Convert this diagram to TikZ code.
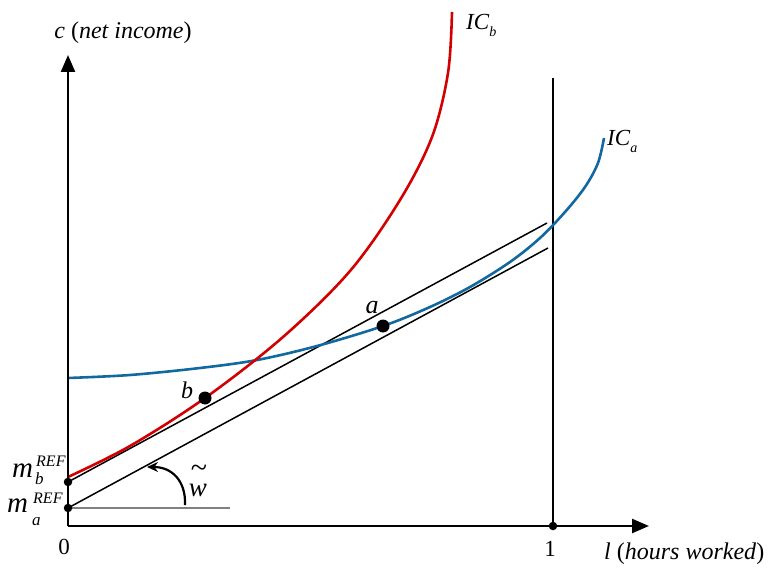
\documentclass[tikz,border=0pt]{standalone}
\usepackage{fontspec}
\setmainfont{Liberation Serif}
\usetikzlibrary{arrows.meta}
\definecolor{icred}{RGB}{210,0,0}
\definecolor{icblue}{RGB}{18,105,160}
\newcommand\ICsub[1]{\fontsize{23}{24}\selectfont\textit{IC}\raisebox{-0.28em}{\fontsize{14}{14}\selectfont\textit{#1}}}
\begin{document}
\begin{tikzpicture}[x=1pt,y=-1pt,
  axisline/.style={line width=2.4pt,-{Triangle[length=17pt,width=14pt]}},
  budget/.style={line width=1.5pt,black},
  bigdot/.style={circle,fill=black,inner sep=0pt,minimum size=13pt},
  smalldot/.style={circle,fill=black,inner sep=0pt,minimum size=8.5pt},
  lbl/.style={inner sep=0pt,font=\fontsize{24}{26}\selectfont},
  digit/.style={inner sep=0pt,font=\fontsize{23}{24}\selectfont},
  mletter/.style={anchor=base west,inner sep=0pt,font=\fontsize{29}{29}\selectfont\itshape},
  supref/.style={anchor=base west,inner sep=0pt,font=\fontsize{16}{16}\selectfont\itshape},
  subidx/.style={anchor=base west,inner sep=0pt,font=\fontsize{17}{17}\selectfont\itshape},
  letter/.style={inner sep=0pt,font=\fontsize{24}{26}\selectfont\itshape}]
\useasboundingbox (0,0) rectangle (771,572);
% coordinates
\coordinate (O) at (68,526);
\coordinate (ytip) at (68,55);
\coordinate (xtip) at (649,526);
\coordinate (onetop) at (553,78);
\coordinate (ub1) at (547,223);
\coordinate (lb1) at (548,248);
\coordinate (grayend) at (230,508);
\coordinate (arcstart) at (185,505);
\coordinate (arcend) at (147,467);
% vertical line at l=1
\draw[line width=1.3pt] (onetop) -- (553,526);
% gray horizontal line
\draw[line width=1.2pt,gray] (68,508) -- (grayend);
% budget lines
\node[smalldot] (mb) at (68,482) {};
\node[smalldot] (ma) at (68,508) {};
\draw[budget] (mb.center) -- (ub1);
\draw[budget] (ma.center) -- (lb1);
% indifference curves
\draw[icblue,line width=2.6pt] plot[smooth,tension=0.55] coordinates {(68,378) (130,375) (200,368) (257,360) (317,346) (383,326) (430,307) (470,287) (510,262) (540,238) (565,212) (585,187) (598,163) (604,138)};
\draw[icred,line width=2.6pt] plot[smooth,tension=0.55] coordinates {(68,477) (130,446) (205,398) (283,337) (350,271) (400,200) (432,137) (448,73) (452,12)};
% axes
\draw[axisline] (O) -- (ytip);
\draw[axisline] (O) -- (xtip);
\node[smalldot] (one) at (553,526) {};
% points
\node[bigdot] (b) at (205,398) {};
\node[bigdot] (a) at (383,326) {};
% angle arrow
\draw[line width=2.2pt,-{Stealth[length=11pt,width=10pt]}] (arcstart) .. controls (186,481) and (172,467) .. (arcend);
% labels
\node[lbl] (ylab) at (123,33) {\textit{c} (\textit{net income})};
\node[lbl,anchor=west] (xlab) at (604,554) {\textit{l} (\textit{hours worked})};
\node[digit] (zero) at (64,547) {0};
\node[digit] (onelab) at (550,549) {1};
\node[anchor=base west,inner sep=0pt] (ICb) at (466,30) {\ICsub{b}};
\node[anchor=base west,inner sep=0pt] (ICa) at (607,146) {\ICsub{a}};
\node[letter,anchor=base] (blab) at (187,398) {b};
\node[letter,font=\fontsize{26}{26}\selectfont\itshape,anchor=base] (alab) at (372,313) {a};
% m_b^REF
\node[mletter] (mbm) at (12,477) {m};
\node[supref] (mbref) at (36,466) {REF};
\node[subidx] (mbsub) at (35,484) {b};
% m_a^REF
\node[mletter] (mam) at (7,512) {m};
\node[supref] (maref) at (33,503) {REF};
\node[subidx] (masub) at (32,525) {a};
% w tilde
\node[letter,font=\fontsize{27}{28}\selectfont\itshape,anchor=base] (wlab) at (198,496) {w};
\node[inner sep=0pt,font=\fontsize{30}{30}\selectfont] (wtilde) at (199,471) {\char"7E};
\end{tikzpicture}
\end{document}
